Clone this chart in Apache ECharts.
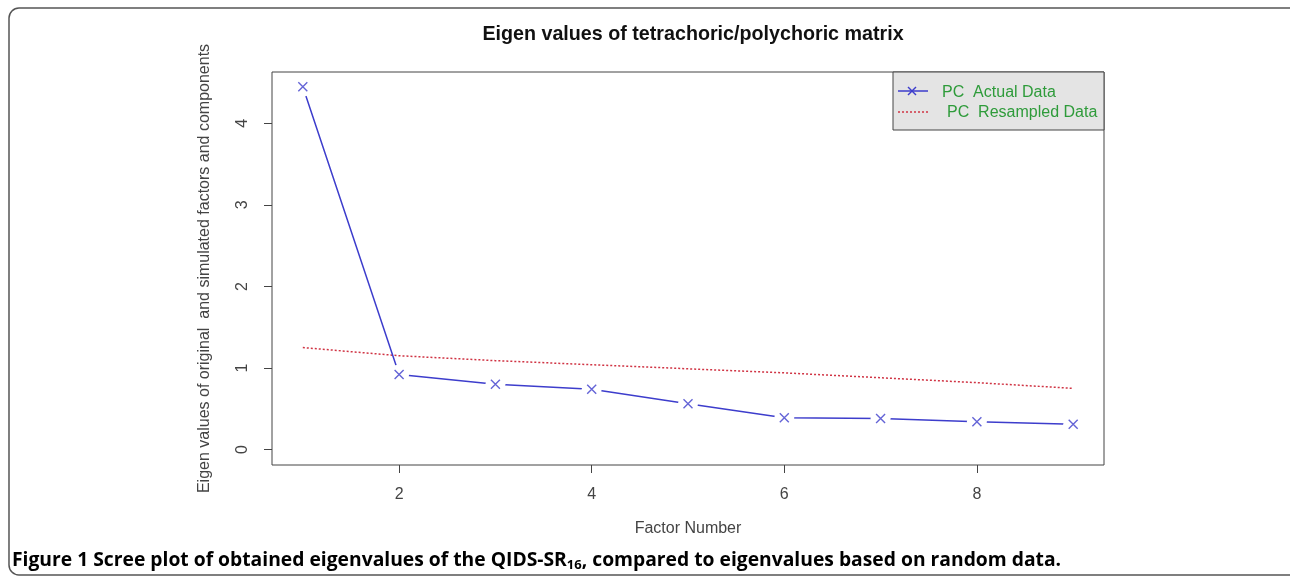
<!DOCTYPE html>
<html><head><meta charset="utf-8">
<script src="https://cdn.jsdelivr.net/npm/echarts@6/dist/echarts.min.js"></script>
<style>html,body{margin:0;padding:0;background:#fff}#c{width:1290px;height:581px}</style>
</head><body><div id="c"></div>
<script>
var factors = [1, 2, 3, 4, 5, 6, 7, 8, 9];
var actualData = [4.45, 0.92, 0.80, 0.74, 0.56, 0.39, 0.38, 0.34, 0.31];
var resampledData = [1.25, 1.15, 1.09, 1.04, 0.99, 0.94, 0.88, 0.82, 0.75];
var xTicks = [2, 4, 6, 8];
var yTicks = [0, 1, 2, 3, 4];

var chart = echarts.init(document.getElementById('c'));
var blue = '#3d3dcc';
var red = '#d03444';
var green = '#2e9b3a';
var font = '"Liberation Sans", Arial, sans-serif';
function pairs(v){ return factors.map(function(f,i){ return [f, v[i]]; }); }
var xMark = 'path://M0,0L10,10M10,0L0,10';

chart.setOption({
  animation: false,
  title: {
    text: 'Eigen values of tetrachoric/polychoric matrix',
    left: 688, top: 20, textAlign: 'center',
    textStyle: {fontFamily: font, fontSize: 19.7, fontWeight: 'bold', color: '#111'}
  },
  grid: {left: 272, top: 72, right: 186, bottom: 116, show: true, borderColor: '#444', borderWidth: 1, backgroundColor: 'transparent'},
  xAxis: {
    type: 'value', min: 0.68, max: 9.32,
    name: 'Factor Number', nameLocation: 'middle', nameGap: 56,
    nameTextStyle: {fontFamily: font, fontSize: 16, color: '#444'},
    axisLine: {show: false, onZero: false},
    axisTick: {show: true, length: 8, customValues: xTicks, lineStyle: {color: '#444'}},
    axisLabel: {customValues: xTicks, margin: 22, fontFamily: font, fontSize: 16, color: '#444'},
    splitLine: {show: false}
  },
  yAxis: {
    type: 'value', min: -0.19, max: 4.63,
    name: 'Eigen values of original  and simulated factors and components',
    nameLocation: 'middle', nameGap: 59, nameRotate: 90,
    nameTextStyle: {fontFamily: font, fontSize: 16, color: '#444'},
    axisLine: {show: false, onZero: false},
    axisTick: {show: true, length: 8, customValues: yTicks, lineStyle: {color: '#444'}},
    axisLabel: {customValues: yTicks, rotate: 90, margin: 21, fontFamily: font, fontSize: 16, color: '#444'},
    splitLine: {show: false}
  },
  series: [
    {
      name: 'PC  Resampled Data', type: 'line', data: pairs(resampledData),
      symbol: 'none', lineStyle: {color: red, width: 1.5, type: [2, 2]}, z: 2
    },
    {
      name: 'PC  Actual Data', type: 'line', data: pairs(actualData),
      symbol: 'circle', symbolSize: 20, showAllSymbol: true,
      itemStyle: {color: '#fff', borderWidth: 0},
      lineStyle: {color: blue, width: 1.5}, z: 3
    },
    {
      name: 'PC  Actual Data marks', type: 'scatter', data: pairs(actualData),
      symbol: xMark, symbolSize: 9,
      itemStyle: {color: 'none', borderColor: blue, borderWidth: 1.4}, z: 4
    }
  ],
  graphic: [
    {type: 'rect', shape: {x: 9, y: 8, width: 1320, height: 567, r: 10}, style: {fill: 'none', stroke: '#555', lineWidth: 1.5}, silent: true},
    {type: 'rect', shape: {x: 893, y: 72, width: 211, height: 58}, style: {fill: '#e4e4e4', stroke: '#444', lineWidth: 1}, z: 10},
    {type: 'line', shape: {x1: 898, y1: 91, x2: 928, y2: 91}, style: {stroke: blue, lineWidth: 1.5}, z: 11},
    {type: 'line', shape: {x1: 908, y1: 87, x2: 916, y2: 95}, style: {stroke: blue, lineWidth: 1.4}, z: 11},
    {type: 'line', shape: {x1: 916, y1: 87, x2: 908, y2: 95}, style: {stroke: blue, lineWidth: 1.4}, z: 11},
    {type: 'line', shape: {x1: 898, y1: 112, x2: 928, y2: 112}, style: {stroke: red, lineWidth: 1.5, lineDash: [2, 2]}, z: 11},
    {type: 'text', x: 942, y: 93, style: {text: 'PC  Actual Data', fill: green, font: '16px ' + font, textVerticalAlign: 'middle'}, z: 11},
    {type: 'text', x: 947, y: 113, style: {text: 'PC  Resampled Data', fill: green, font: '16px ' + font, textVerticalAlign: 'middle'}, z: 11},
    {type: 'text', x: 12, y: 561, style: {
      text: '{b|Figure 1 Scree plot of obtained eigenvalues of the QIDS-SR}{s|16}{b|, compared to eigenvalues based on random data.}',
      textVerticalAlign: 'middle',
      rich: {
        b: {fontFamily: '"Open Sans", sans-serif', fontSize: 19.3, fontWeight: 'bold', color: '#222'},
        s: {fontFamily: '"Open Sans", sans-serif', fontSize: 13, fontWeight: 'bold', color: '#222', padding: [9, 0, 0, 0]}
      }
    }}
  ]
});
</script></body></html>
